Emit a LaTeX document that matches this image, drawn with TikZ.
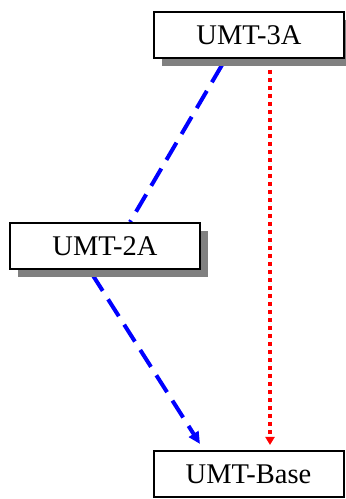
\documentclass[tikz,border=0pt]{standalone}
\usepackage{fontspec}
\setmainfont{Liberation Serif}
\usetikzlibrary{arrows.meta,shadows,backgrounds}

\begin{document}
\begin{tikzpicture}[x=1pt, y=1pt,
    umtbox/.style={draw=black, line width=2pt, fill=white, inner sep=0pt,
      minimum width=190pt, minimum height=46pt, font=\fontsize{28.5}{28.5}\selectfont},
    boxshadow/.style={drop shadow={shadow xshift=8pt, shadow yshift=-8pt,
      fill=black!50, opacity=1}},
    refine/.style={draw=blue, line width=4pt, dash pattern=on 20pt off 10pt},
    derive/.style={draw=red, line width=4pt, dash pattern=on 4pt off 4pt}]
  \useasboundingbox (0,0) rectangle (346,499);
  % models
  \node[umtbox, boxshadow] (umt3a) at (249,464) {UMT-3A};
  \node[umtbox, boxshadow] (umt2a) at (105,253) {UMT-2A};
  \node[umtbox] (umtbase) at (248.5,25) {UMT-Base};
  % dependencies, behind the boxes
  \begin{scope}[on background layer]
    \draw[refine] ([xshift=-27pt,yshift=-6pt]umt3a.south) -- ([xshift=25pt]umt2a.north);
    \draw[refine, -{Triangle[length=12pt,width=11pt]}] ([xshift=-13pt,yshift=-4pt]umt2a.south) -- ([xshift=-48.5pt,yshift=6pt]umtbase.north);
    \draw[derive, -{Triangle[length=8pt,width=9pt]}] ([xshift=21pt,yshift=-11pt]umt3a.south) -- ([xshift=21.5pt,yshift=5pt]umtbase.north);
  \end{scope}
\end{tikzpicture}
\end{document}
